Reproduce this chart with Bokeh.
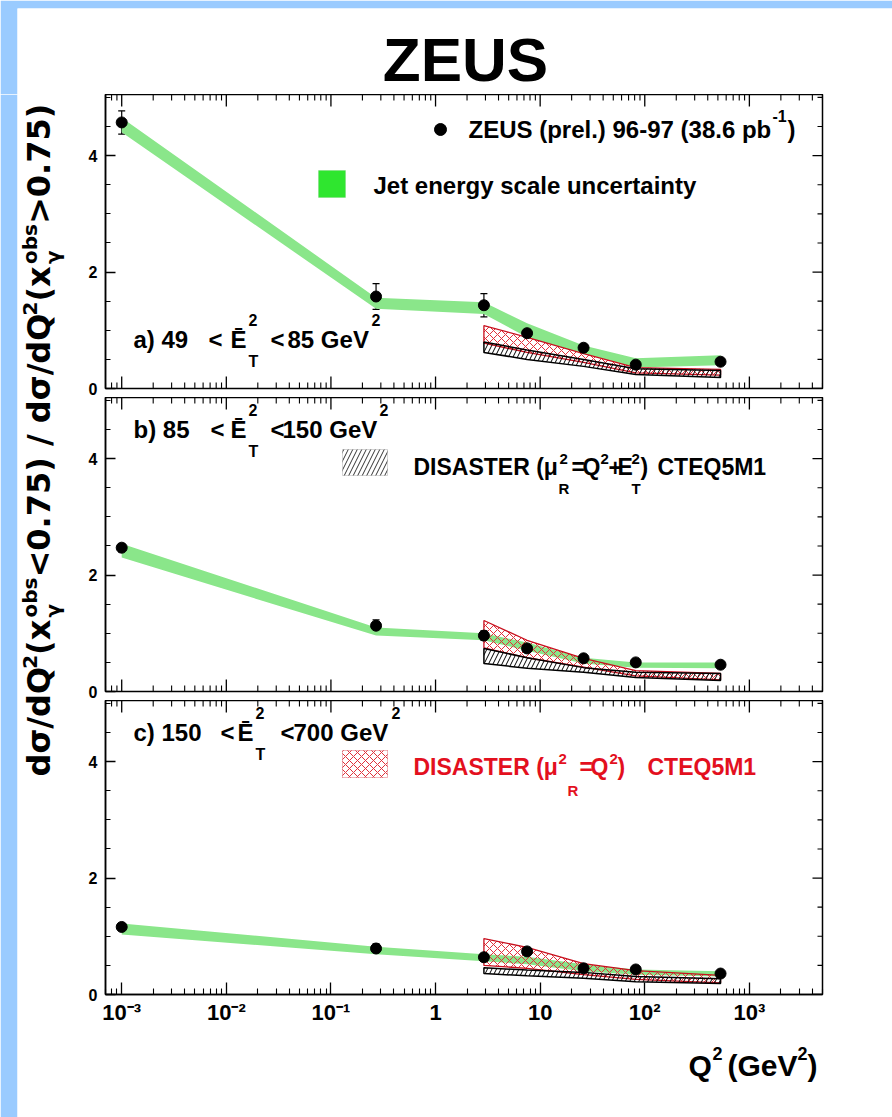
import math
from bokeh.plotting import figure
from bokeh.models import (Range1d, FixedTicker, Label, ColumnDataSource, Whisker, TeeHead,
                          BoxAnnotation)
from bokeh.layouts import column, row
from bokeh.embed import file_html
from bokeh.resources import INLINE

# ---------------- data ----------------
q2_points = [0.001, 0.27, 2.9, 7.5, 26.0, 82.0, 530.0]
q2_theory = [2.9, 7.5, 26.0, 82.0, 530.0]

x_tick_values = [1e-3, 1e-2, 1e-1, 1.0, 10.0, 100.0, 1000.0]
x_tick_labels = ["10⁻³", "10⁻²", "10⁻¹", "1", "10", "10²", "10³"]
x_tick_keys = ["0.001", "0.01", "0.1", "1", "10", "100", "1000"]
y_tick_values = [0, 2, 4]
y_minor_values = [0.5, 1, 1.5, 2.5, 3, 3.5, 4.5, 5.0]

# panel a : 49 < ET^2 < 85
ratio_a = [4.57, 1.58, 1.43, 0.95, 0.70, 0.41, 0.46]
err_a = [0.20, 0.22, 0.20, 0.05, 0.05, 0.04, 0.05]
jes_lo_a = [4.40, 1.37, 1.28, 0.88, 0.60, 0.36, 0.40]
jes_hi_a = [4.65, 1.56, 1.48, 1.12, 0.74, 0.52, 0.57]
dis_lo_a = [0.62, 0.50, 0.38, 0.24, 0.19]
dis_hi_a = [0.80, 0.66, 0.50, 0.34, 0.31]
disq_lo_a = [0.78, 0.62, 0.45, 0.27, 0.23]
disq_hi_a = [1.08, 0.88, 0.60, 0.36, 0.33]

# panel b : 85 < ET^2 < 150
ratio_b = [2.47, 1.13, 0.96, 0.74, 0.57, 0.50, 0.46]
err_b = [0.07, 0.10, 0.08, 0.04, 0.04, 0.03, 0.04]
jes_lo_b = [2.30, 0.96, 0.88, 0.70, 0.48, 0.41, 0.40]
jes_hi_b = [2.54, 1.10, 1.00, 0.84, 0.58, 0.50, 0.50]
dis_lo_b = [0.48, 0.40, 0.33, 0.24, 0.19]
dis_hi_b = [0.74, 0.58, 0.41, 0.33, 0.31]
disq_lo_b = [0.75, 0.58, 0.42, 0.27, 0.20]
disq_hi_b = [1.22, 0.88, 0.57, 0.36, 0.31]

# panel c : 150 < ET^2 < 700
ratio_c = [1.16, 0.79, 0.64, 0.74, 0.45, 0.43, 0.36]
err_c = [0.05, 0.08, 0.05, 0.05, 0.04, 0.04, 0.04]
jes_lo_c = [1.03, 0.69, 0.57, 0.52, 0.40, 0.34, 0.31]
jes_hi_c = [1.22, 0.82, 0.69, 0.65, 0.52, 0.43, 0.40]
dis_lo_c = [0.36, 0.32, 0.28, 0.22, 0.19]
dis_hi_c = [0.46, 0.42, 0.38, 0.31, 0.27]
disq_lo_c = [0.50, 0.45, 0.34, 0.26, 0.20]
disq_hi_c = [0.96, 0.81, 0.53, 0.41, 0.33]

# ---------------- style / layout constants ----------------
BLUE = "#9acbff"
GREEN_BAND = "#8ae68a"
GREEN_KEY = "#2fe62f"
RED_TEXT = "#e3101e"
RED_HATCH = "#e0303a"
FONT = "Liberation Sans"
TITLE_FONT = "DejaVu Sans"
MID = 0.35  # baseline -> box middle offset, in em

XMIN, XMAX = 7e-4, 5000.0
YMAX = 5.05
FRAME_L, FRAME_R, FRAME_H = 105, 822, 294
PPD = (FRAME_R - FRAME_L) / (math.log10(XMAX) - math.log10(XMIN))
PPU = FRAME_H / YMAX

x_minor_values = [m * 10.0 ** k for k in range(-4, 4) for m in range(2, 10)
                  if XMIN <= m * 10.0 ** k <= XMAX]


def px2x(px):
    return 10 ** (math.log10(XMIN) + (px - FRAME_L) / PPD)


def py2y(py, bottom):
    return (bottom - py) / PPU


def label(p, s, px, py, bottom, size, color="black", font=FONT, align="left"):
    # (px, py) = page position of the text baseline start
    p.add_layout(Label(x=px2x(px), y=py2y(py - MID * size, bottom), text=s, text_font=font,
                       text_font_style="bold", text_font_size=f"{size}px",
                       text_color=color, text_align=align, text_baseline="middle"))


def chrome_fig(w, h, xr, yr, left, top, right=0, fill=BLUE):
    f = figure(width=w, height=h, x_range=Range1d(*xr), y_range=Range1d(*yr),
               output_backend="svg", toolbar_location=None,
               x_axis_location=None, y_axis_location=None,
               min_border_left=left, min_border_right=right, min_border_top=top,
               min_border_bottom=0)
    f.border_fill_color = fill
    f.background_fill_color = "white"
    f.outline_line_color = None
    f.grid.visible = False
    return f


def chrome_label(f, s, x, y, size, font=FONT, angle=0.0, align="left"):
    # (x, y) = baseline position in page pixels; y axis of chrome figures points down
    if angle:
        x = x - MID * size
    else:
        y = y - MID * size
    f.add_layout(Label(x=x, y=y, text=s, angle=angle, text_font=font,
                       text_font_style="bold", text_font_size=f"{size}px",
                       text_color="black", text_align=align, text_baseline="middle"))


xt = FixedTicker(ticks=x_tick_values, minor_ticks=x_minor_values)
yt = FixedTicker(ticks=y_tick_values, minor_ticks=y_minor_values)
overrides = {}
for v, k, lab in zip(x_tick_values, x_tick_keys, x_tick_labels):
    overrides[v] = lab
    overrides[k] = lab


def tick_segments(p, with_bottom):
    # inward ticks on top (and bottom) edges and on the right edge
    def seg(xs0, xs1, ys0, ys1, w):
        p.segment(x0=xs0, x1=xs1, y0=ys0, y1=ys1, line_color="black", line_width=w)

    for vals, ln, w in ((x_tick_values, 12, 1.3), (x_minor_values, 6, 1.1)):
        seg(vals, vals, [YMAX] * len(vals), [YMAX - ln / PPU] * len(vals), w)
        if with_bottom:
            seg(vals, vals, [0] * len(vals), [ln / PPU] * len(vals), w)
    xr0, xr_maj, xr_min = px2x(FRAME_R), px2x(FRAME_R - 10), px2x(FRAME_R - 5)
    seg([xr0] * 3, [xr_maj] * 3, y_tick_values, y_tick_values, 1.3)
    seg([xr0] * len(y_minor_values), [xr_min] * len(y_minor_values),
        y_minor_values, y_minor_values, 1.1)


def panel_fig(height, bottom_border, show_x_axis):
    p = figure(width=827, height=height, x_axis_type="log",
               x_range=Range1d(XMIN, XMAX), y_range=Range1d(0, YMAX),
               output_backend="svg", toolbar_location=None,
               x_axis_location="below" if show_x_axis else None,
               min_border_left=40, min_border_right=70, min_border_top=0,
               min_border_bottom=bottom_border)
    p.grid.visible = False
    p.outline_line_color = "black"
    p.outline_line_width = 1.5
    for ax in list(p.xaxis) + list(p.yaxis):
        ax.axis_line_width = 1.5
        ax.axis_line_color = "black"
        ax.major_tick_line_color = "black"
        ax.minor_tick_line_color = "black"
        ax.major_tick_line_width = 1.3
        ax.minor_tick_line_width = 1.1
        ax.major_tick_out = 0
        ax.minor_tick_out = 0
        ax.major_label_text_font = FONT
        ax.major_label_text_font_style = "bold"
        ax.major_label_text_color = "black"
    for ax in p.xaxis:
        ax.ticker = xt
        ax.major_label_overrides = overrides
        ax.major_tick_in = 12
        ax.minor_tick_in = 6
        ax.major_label_text_font_size = "22px"
        ax.major_label_standoff = 5
    for ax in p.yaxis:
        ax.ticker = yt
        ax.major_tick_in = 10
        ax.minor_tick_in = 5
        ax.major_label_text_font_size = "16px"
        ax.major_label_standoff = 8
    tick_segments(p, not show_x_axis)
    return p


def draw_panel(p, ratio, err, jlo, jhi, dlo, dhi, qlo, qhi):
    p.varea(x=q2_points, y1=jlo, y2=jhi, fill_color=GREEN_BAND)
    xs = q2_theory + q2_theory[::-1]
    p.patch(xs, qhi + qlo[::-1], fill_alpha=0, hatch_pattern="x", hatch_color=RED_HATCH,
            hatch_scale=8, hatch_weight=1, line_color="#c8101e", line_width=1.3)
    p.patch(xs, dhi + dlo[::-1], fill_alpha=0, hatch_pattern="/", hatch_color="black",
            hatch_scale=9, hatch_weight=1, line_color="black", line_width=1.5)
    src = ColumnDataSource(dict(x=q2_points, y=ratio,
                                lo=[r - e for r, e in zip(ratio, err)],
                                hi=[r + e for r, e in zip(ratio, err)]))
    p.add_layout(Whisker(source=src, base="x", lower="lo", upper="hi", dimension="height",
                         line_color="black", line_width=1.2,
                         lower_head=TeeHead(size=7, line_width=1.2, line_color="black"),
                         upper_head=TeeHead(size=7, line_width=1.2, line_color="black")))
    p.scatter("x", "y", source=src, size=11, color="black")


def et_label(p, bottom, base, tag, lo, hi, pos):
    label(p, f"{tag}  {lo}", pos[0], base, bottom, 24)
    label(p, "<", pos[1], base, bottom, 24)
    label(p, "Ē", pos[2], base, bottom, 24)
    label(p, "2", pos[3], base - 22, bottom, 16)
    label(p, "T", pos[3], base + 20, bottom, 16)
    label(p, "<", pos[4], base, bottom, 24)
    label(p, f"{hi} GeV", pos[5], base, bottom, 24)
    label(p, "2", pos[6], base - 22, bottom, 16)


# ---------------- header ----------------
header = chrome_fig(892, 94, (17, 892), (94, 8), 17, 8)
chrome_label(header, "ZEUS", 465, 80.5, 62, align="center")

# ---------------- y title ----------------
yfig = chrome_fig(65, 1023, (17, 65), (1117, 94), 17, 0)
DJ = {' ': 0.348, '(': 0.458, ')': 0.458, '/': 0.366, '.': 0.381, '<': 0.838,
      '>': 0.838, 'd': 0.716, 'σ': 0.716, 'Q': 0.850, 'x': 0.712, 'o': 0.687,
      'b': 0.716, 's': 0.595, 'γ': 0.652}


def djw(s, size):
    return sum(DJ.get(c, 0.696) for c in s) * size


MAIN, SUP = 32, 20
parts = [("dσ/dQ", "m"), ("2", "sup"), ("(x", "m"), ("obs", "ss"),
         ("<0.75) / dσ/dQ", "m"), ("2", "sup"), ("(x", "m"), ("obs", "ss"),
         (">0.75)", "m")]
ypos = 776.0
for s, role in parts:
    if role == "m":
        chrome_label(yfig, s, 50, ypos, MAIN, font=TITLE_FONT, angle=math.pi / 2)
        ypos -= djw(s, MAIN)
    elif role == "sup":
        chrome_label(yfig, s, 36, ypos, SUP, font=TITLE_FONT, angle=math.pi / 2)
        ypos -= djw(s, SUP)
    else:
        chrome_label(yfig, s, 36, ypos, SUP, font=TITLE_FONT, angle=math.pi / 2)
        chrome_label(yfig, "γ", 59, ypos, SUP, font=TITLE_FONT, angle=math.pi / 2)
        ypos -= djw(s, SUP)

# ---------------- panels ----------------
fa = panel_fig(303, 9, False)
fb = panel_fig(303, 9, False)
fc = panel_fig(335, 41, True)

draw_panel(fa, ratio_a, err_a, jes_lo_a, jes_hi_a, dis_lo_a, dis_hi_a, disq_lo_a, disq_hi_a)
draw_panel(fb, ratio_b, err_b, jes_lo_b, jes_hi_b, dis_lo_b, dis_hi_b, disq_lo_b, disq_hi_b)
draw_panel(fc, ratio_c, err_c, jes_lo_c, jes_hi_c, dis_lo_c, dis_hi_c, disq_lo_c, disq_hi_c)

# panel a texts (frame bottom at page y 388)
A = 388
et_label(fa, A, 347, "a)", "49", "85", [133, 208, 230, 248, 270, 287, 371])
fa.scatter(x=[px2x(440)], y=[py2y(129, A)], size=12, color="black")
label(fa, "ZEUS (prel.) 96-97 (38.6 pb", 468, 137, A, 24)
label(fa, "-1", 772, 121, A, 16)
label(fa, ")", 787, 137, A, 24)
fa.add_layout(BoxAnnotation(left=px2x(318), right=px2x(345), top=py2y(170, A),
                            bottom=py2y(197, A), fill_color=GREEN_KEY, fill_alpha=1,
                            line_color="#6cc86c", line_width=1))
label(fa, "Jet energy scale uncertainty", 373, 193, A, 24)

# panel b texts (frame bottom at page y 691)
B = 691
et_label(fb, B, 437, "b)", "85", "150", [133, 210, 230, 248, 270, 282, 379])
fb.add_layout(BoxAnnotation(left=px2x(342), right=px2x(387), top=py2y(449, B),
                            bottom=py2y(475, B), fill_alpha=0, hatch_pattern="/",
                            hatch_color="#333333", hatch_scale=9, hatch_weight=1,
                            line_color="#777777", line_width=1))
label(fb, "DISASTER (μ", 413, 475, B, 23)
label(fb, "2", 559, 464, B, 15)
label(fb, "R", 558, 493, B, 15)
label(fb, "=", 571, 475, B, 23)
label(fb, "Q", 582, 475, B, 23)
label(fb, "2", 600, 464, B, 15)
label(fb, "+", 608, 475, B, 23)
label(fb, "E", 617, 475, B, 23)
label(fb, "2", 631, 464, B, 15)
label(fb, "T", 631, 493, B, 15)
label(fb, ")", 640, 475, B, 23)
label(fb, "CTEQ5M1", 657, 475, B, 23)

# panel c texts (frame bottom at page y 994)
C = 994
et_label(fc, C, 740, "c)", "150", "700", [133, 220, 237, 255, 280, 293, 391])
fc.add_layout(BoxAnnotation(left=px2x(342), right=px2x(387), top=py2y(750, C),
                            bottom=py2y(777, C), fill_alpha=0, hatch_pattern="x",
                            hatch_color=RED_HATCH, hatch_scale=8, hatch_weight=1,
                            line_color="#c8101e", line_width=1))
label(fc, "DISASTER (μ", 413, 775, C, 23, color=RED_TEXT)
label(fc, "2", 558, 764, C, 15, color=RED_TEXT)
label(fc, "R", 567, 795, C, 15, color=RED_TEXT)
label(fc, "=", 579, 775, C, 23, color=RED_TEXT)
label(fc, "Q", 590, 775, C, 23, color=RED_TEXT)
label(fc, "2", 609, 764, C, 15, color=RED_TEXT)
label(fc, ")", 617, 775, C, 23, color=RED_TEXT)
label(fc, "CTEQ5M1", 647, 775, C, 23, color=RED_TEXT)

# ---------------- footer with the x axis title ----------------
footer = chrome_fig(827, 82, (105, 822), (1117, 1035), 40, 0, right=70, fill="white")
chrome_label(footer, "Q", 688, 1075, 30)
chrome_label(footer, "2", 712, 1059, 18)
chrome_label(footer, "(GeV", 727, 1075, 30)
chrome_label(footer, "2", 797, 1059, 18)
chrome_label(footer, ")", 807, 1075, 30)

layout = column(header, row(yfig, column(fa, fb, fc, footer)))

with open("out.html", "w") as fh:
    fh.write(file_html(layout, INLINE))
